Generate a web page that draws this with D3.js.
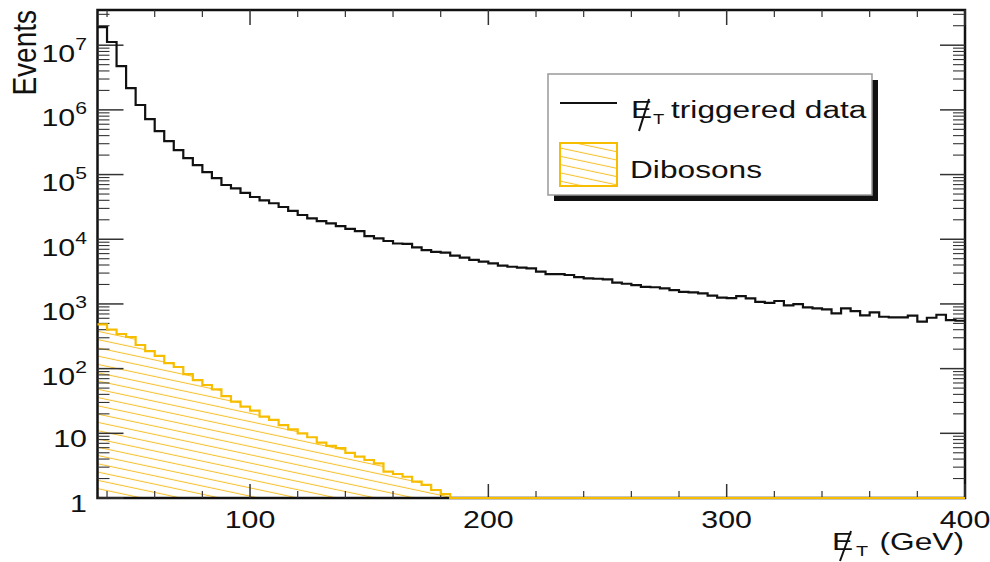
<!DOCTYPE html>
<html>
<head>
<meta charset="utf-8">
<script src="https://cdn.jsdelivr.net/npm/d3@7"></script>
<style>
  body { margin: 0; background: #fff; }
  text { font-family: "Liberation Sans", Arial, Helvetica, sans-serif; fill: #111; }
</style>
</head>
<body>
<div id="chart"></div>
<script>
// binning: 4 GeV bins from 36 to 400 GeV
var binStart = 36, binWidth = 4;

// MET triggered data, events per bin
var dataCounts = [
  1.9e7, 1.12e7, 4.75e6, 2.17e6, 1.19e6, 7.2e5, 4.7e5, 3.3e5, 2.39e5, 1.8e5,
  1.4e5, 1.09e5, 8.8e4, 6.9e4, 6.1e4, 5.2e4, 4.5e4, 4.0e4, 3.6e4, 3.15e4,
  2.75e4, 2.37e4, 2.1e4, 1.91e4, 1.76e4, 1.6e4, 1.45e4, 1.34e4, 1.12e4, 1.03e4,
  9400, 8600, 8500, 7500, 6800, 6400, 6200, 5600, 5200, 4800,
  4500, 4240, 3900, 3760, 3630, 3550, 3150, 2900, 2880, 2800,
  2600, 2490, 2450, 2400, 2130, 2050, 1960, 1840, 1810, 1740,
  1640, 1540, 1510, 1460, 1340, 1250, 1230, 1320, 1220, 1080,
  1040, 1110, 951, 996, 886, 855, 826, 716, 855, 777,
  667, 742, 634, 621, 618, 658, 531, 612, 681, 564,
  550
];

// dibosons, events per bin
var dibosonCounts = [
  484, 402, 343, 308, 232, 187, 157, 122, 106, 82.5,
  66.6, 55.8, 47.9, 37.7, 30.8, 25.8, 22.4, 18.1, 16.1, 13.4,
  11.5, 10, 8.7, 7.2, 6.4, 5.9, 5.0, 4.35, 3.87, 3.44,
  2.55, 2.35, 2.13, 1.79, 1.59, 1.33, 1.15, 0, 0, 0,
  0, 0, 0, 0, 0, 0, 0, 0, 0, 0,
  0, 0, 0, 0, 0, 0, 0, 0, 0, 0,
  0, 0, 0, 0, 0, 0, 0, 0, 0, 0,
  0, 0, 0, 0, 0, 0, 0, 0, 0, 0,
  0, 0, 0, 0, 0, 0, 0, 0, 0, 0,
  0
];

var xTickLabels = [100, 200, 300, 400];
var yTickPowers = [0, 1, 2, 3, 4, 5, 6, 7];

var width = 990, height = 562;
var plotLeft = 97.5, plotRight = 965, plotTop = 10, plotBottom = 498;
var SX = 1.32; // text in the original is stretched sideways
var yellow = '#f7be00';

var svg = d3.select('#chart').append('svg')
    .attr('width', width)
    .attr('height', height);

svg.append('rect').attr('width', width).attr('height', height).attr('fill', '#fff');

var x = d3.scaleLinear().domain([36, 400]).range([plotLeft, plotRight]);
var y = d3.scaleLog().domain([1, 3.5e7]).range([plotBottom, plotTop]);

// hatch pattern for dibosons
var defs = svg.append('defs');
var pat = defs.append('pattern')
    .attr('id', 'hatch')
    .attr('patternUnits', 'userSpaceOnUse')
    .attr('width', 10).attr('height', 8.1)
    .attr('patternTransform', 'rotate(12)');
pat.append('line')
    .attr('x1', -1).attr('x2', 11).attr('y1', 4).attr('y2', 4)
    .attr('stroke', '#f5c232').attr('stroke-width', 1.1);

function points(arr) {
    var pts = arr.map((v, i) => [binStart + i * binWidth, Math.max(v, 1)]);
    pts.push([binStart + arr.length * binWidth, Math.max(arr[arr.length - 1], 1)]);
    return pts;
}

var dib = points(dibosonCounts);
svg.append('path')
    .datum(dib)
    .attr('fill', 'url(#hatch)')
    .attr('d', d3.area().curve(d3.curveStepAfter)
        .x(d => x(d[0])).y0(y(1)).y1(d => y(d[1])));

// frame
svg.append('rect')
    .attr('x', plotLeft).attr('y', plotTop)
    .attr('width', plotRight - plotLeft).attr('height', plotBottom - plotTop)
    .attr('fill', 'none').attr('stroke', '#111').attr('stroke-width', 2.5);

// ticks
var ticks = svg.append('g').attr('stroke', '#333');
var xMinor = d3.range(40, 400, 20).filter(v => v % 100 !== 0);
xTickLabels.forEach(v => {
    ticks.append('line').attr('x1', x(v)).attr('x2', x(v)).attr('y1', plotBottom).attr('y2', plotBottom - 14).attr('stroke-width', 1.5);
    ticks.append('line').attr('x1', x(v)).attr('x2', x(v)).attr('y1', plotTop).attr('y2', plotTop + 15).attr('stroke-width', 1.5);
});
xMinor.forEach(v => {
    ticks.append('line').attr('x1', x(v)).attr('x2', x(v)).attr('y1', plotBottom).attr('y2', plotBottom - 7).attr('stroke-width', 1.2);
    ticks.append('line').attr('x1', x(v)).attr('x2', x(v)).attr('y1', plotTop).attr('y2', plotTop + 7).attr('stroke-width', 1.2);
});
yTickPowers.forEach(p => {
    var v = Math.pow(10, p);
    ticks.append('line').attr('x1', plotLeft).attr('x2', plotLeft + 26).attr('y1', y(v)).attr('y2', y(v)).attr('stroke-width', 1.5);
    ticks.append('line').attr('x1', plotRight).attr('x2', plotRight - 25).attr('y1', y(v)).attr('y2', y(v)).attr('stroke-width', 1.5);
    for (var m = 2; m <= 9; m++) {
        var mv = m * v;
        if (mv > y.domain()[1]) break;
        ticks.append('line').attr('x1', plotLeft).attr('x2', plotLeft + 12).attr('y1', y(mv)).attr('y2', y(mv)).attr('stroke-width', 1.1);
        ticks.append('line').attr('x1', plotRight).attr('x2', plotRight - 12).attr('y1', y(mv)).attr('y2', y(mv)).attr('stroke-width', 1.1);
    }
});

// histogram outlines over the axes
svg.append('path')
    .datum(dib)
    .attr('fill', 'none')
    .attr('stroke', yellow)
    .attr('stroke-width', 2.2)
    .attr('d', d3.line().curve(d3.curveStepAfter).x(d => x(d[0])).y(d => y(d[1])));

svg.append('path')
    .datum(points(dataCounts))
    .attr('fill', 'none')
    .attr('stroke', '#111')
    .attr('stroke-width', 2.2)
    .attr('d', d3.line().curve(d3.curveStepAfter).x(d => x(d[0])).y(d => y(d[1])));

// stretched text helper
function label(px, py, txt, size, anchor) {
    return svg.append('text')
        .attr('transform', 'translate(' + px + ',' + py + ') scale(' + SX + ',1)')
        .attr('font-size', size)
        .attr('text-anchor', anchor || 'start')
        .text(txt);
}

// y tick labels
yTickPowers.forEach(p => {
    var ty = y(Math.pow(10, p));
    if (p === 0) {
        label(87, ty + 14, '1', 23, 'end');
    } else if (p === 1) {
        label(87, ty + 13.5, '10', 23, 'end');
    } else {
        var t = label(87, ty + 16.5, '', 23, 'end');
        t.append('tspan').text('10');
        t.append('tspan').attr('dy', -12).attr('font-size', 16).text(p);
    }
});

// x tick labels
xTickLabels.forEach(v => {
    label(x(v), 528, v, 23, 'middle');
});

// axis titles
svg.append('text')
    .attr('transform', 'translate(36,10) scale(1.18,1) rotate(-90)')
    .attr('font-size', 28)
    .attr('text-anchor', 'end')
    .text('Events');

label(832, 550, 'E', 24);
svg.append('line').attr('x1', 851).attr('y1', 531).attr('x2', 840).attr('y2', 561)
    .attr('stroke', '#111').attr('stroke-width', 2);
label(856, 556, 'T', 15);
label(964, 550, '(GeV)', 24, 'end');

// legend
svg.append('rect').attr('x', 554).attr('y', 80).attr('width', 324).attr('height', 121).attr('fill', '#111');
svg.append('rect').attr('x', 548).attr('y', 74).attr('width', 324).attr('height', 121)
    .attr('fill', '#fff').attr('stroke', '#999').attr('stroke-width', 1.5);

svg.append('line').attr('x1', 560).attr('x2', 617).attr('y1', 103).attr('y2', 103)
    .attr('stroke', '#111').attr('stroke-width', 2.2);
label(631, 118, 'E', 24);
svg.append('line').attr('x1', 649).attr('y1', 99).attr('x2', 639).attr('y2', 131)
    .attr('stroke', '#111').attr('stroke-width', 2);
label(653, 124, 'T', 14);
label(671, 118, 'triggered data', 24);

svg.append('rect').attr('x', 560).attr('y', 143).attr('width', 57).attr('height', 43)
    .attr('fill', 'url(#hatch)').attr('stroke', yellow).attr('stroke-width', 2);
label(630, 178, 'Dibosons', 24);
</script>
</body>
</html>
